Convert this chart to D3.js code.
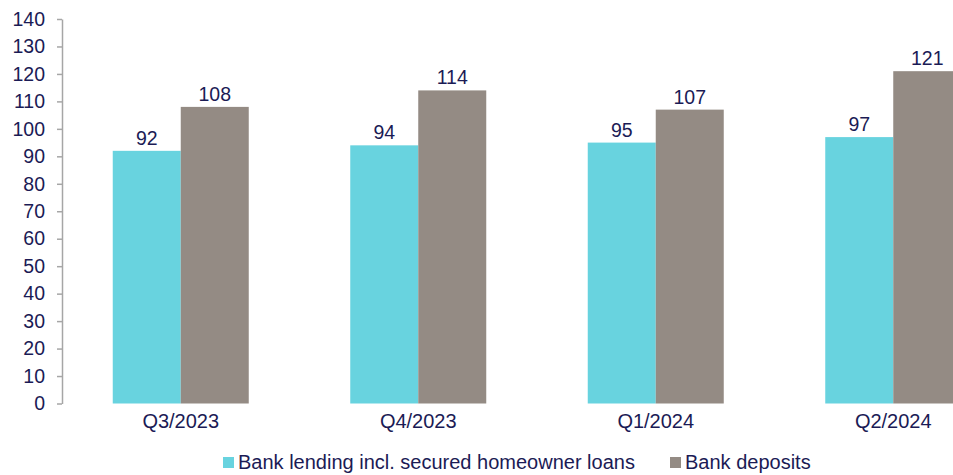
<!DOCTYPE html>
<html>
<head>
<meta charset="utf-8">
<script src="https://cdn.jsdelivr.net/npm/d3@7"></script>
<style>
  html, body { margin: 0; padding: 0; background: #fff; }
  svg { display: block; font-family: "Liberation Sans", Arial, sans-serif; }
</style>
</head>
<body>
<svg id="chart" width="953" height="475"></svg>
<script>
const categories = ["Q3/2023", "Q4/2023", "Q1/2024", "Q2/2024"];
const lending = [92, 94, 95, 97];
const deposits = [108, 114, 107, 121];
const seriesNames = ["Bank lending incl. secured homeowner loans", "Bank deposits"];
const yTicks = [0, 10, 20, 30, 40, 50, 60, 70, 80, 90, 100, 110, 120, 130, 140];

const colors = ["#68d3df", "#948b84"];
const textColor = "#1b1b55";
const svg = d3.select("#chart");

const axisX = 62;
const x = d3.scaleBand().domain(categories).range([axisX, axisX + 4 * 237.5]);
const y = d3.scaleLinear().domain([0, 140]).range([403.5, 19]);
const barW = 68;

// y axis
const yAxis = svg.append("g")
  .attr("transform", `translate(${axisX},0)`)
  .call(d3.axisLeft(y).tickValues(yTicks).tickSize(5).tickPadding(12).tickSizeOuter(0));
yAxis.select(".domain").attr("stroke", "#a6a6a6").attr("stroke-width", 1.5);
yAxis.selectAll(".tick line").attr("stroke", "#a6a6a6").attr("stroke-width", 1.5);
yAxis.selectAll(".tick text").attr("fill", textColor).attr("font-size", 19.5)
  .attr("font-family", "Liberation Sans, Arial, sans-serif");

const groups = categories.map((c, i) => ({ c, vals: [lending[i], deposits[i]] }));

// bars with value labels
groups.forEach(g => {
  const cx = x(g.c) + x.bandwidth() / 2;
  g.vals.forEach((v, s) => {
    const x0 = cx - barW + s * barW;
    svg.append("rect")
      .attr("x", x0).attr("y", y(v))
      .attr("width", barW).attr("height", y(0) - y(v))
      .attr("fill", colors[s]);
    svg.append("text")
      .attr("x", x0 + barW / 2).attr("y", y(v) - 6)
      .attr("text-anchor", "middle")
      .attr("fill", textColor).attr("font-size", 19.5)
      .text(v);
  });
  svg.append("text")
    .attr("x", cx).attr("y", 428)
    .attr("text-anchor", "middle")
    .attr("fill", textColor).attr("font-size", 20)
    .text(g.c);
});

// legend
const legendX = [223, 670];
seriesNames.forEach((n, s) => {
  svg.append("rect")
    .attr("x", legendX[s]).attr("y", 457)
    .attr("width", 11).attr("height", 11)
    .attr("fill", colors[s]);
  svg.append("text")
    .attr("x", legendX[s] + 15).attr("y", 469)
    .attr("fill", textColor).attr("font-size", 20)
    .text(n);
});
</script>
</body>
</html>
